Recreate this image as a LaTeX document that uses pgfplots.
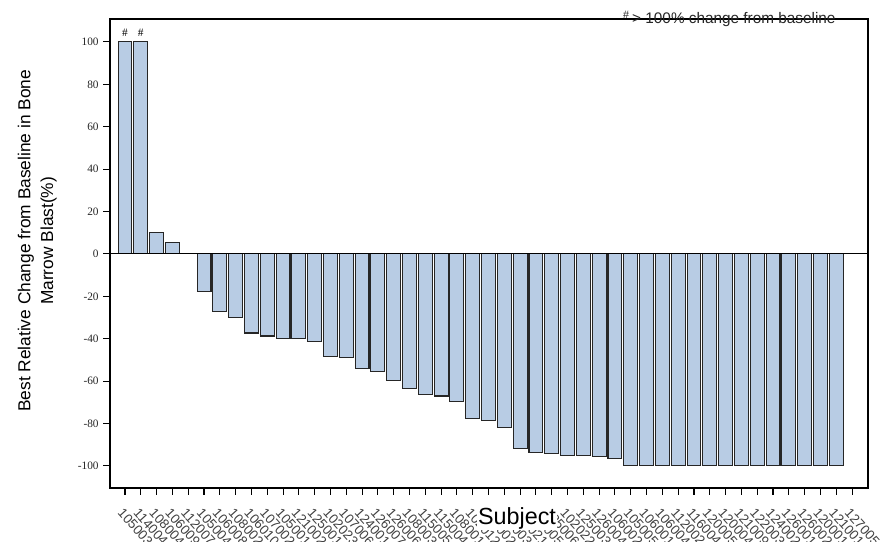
\documentclass[border=0pt]{standalone}
\usepackage{pgfplots}
\pgfplotsset{compat=1.18}
\usepackage{fontspec}
\setmainfont{Liberation Sans}
\newfontfamily\serif{Liberation Serif}
\definecolor{barfill}{RGB}{184,204,228}
\begin{document}
\begin{tikzpicture}
\begin{axis}[
  name=ax,
  scale only axis,
  width=568.5pt, height=351.75pt,
  xmin=0.051, xmax=48.01,
  ymin=-110.4, ymax=110.8,
  axis line style={black, line width=0.8pt},
  tick align=outside,
  major tick length=5pt,
  tick style={black, line width=0.8pt},
  xtick={1,...,47},
  xticklabels={105003,114004,108004,106009,112007,105004,106008,108002,106010,107002,105001,121002,125001,102023,107006,124001,126007,126006,108003,115005,115004,108001,102012,125002,102003,102021,125005,125006,102022,125003,126004,106002,105005,106001,106004,112002,116004,120005,120004,121009,122003,124002,126001,126002,120001,121001,127005},
  xticklabel style={rotate=-48, anchor=north west, font=\fontsize{10}{12}\selectfont, text=black!75, inner sep=1pt, yshift=-5.8pt, xshift=5.5pt},
  ytick={-100,-80,...,100},
  yticklabel={\pgfmathparse{int(round(\tick))}\pgfmathresult},
  yticklabel style={font=\serif\fontsize{8.5}{10}\selectfont, text=black!85},
  xtick pos=bottom, ytick pos=left,
  clip=false,
]
\addplot[ybar, bar width=0.88, fill=barfill, draw=black!85, line width=0.8pt] coordinates {
(1,100) (2,100) (3,10) (4,5.5) (5,0) (6,-17.8) (7,-27) (8,-30) (9,-37.3) (10,-38.7)
(11,-39.8) (12,-39.8) (13,-41.5) (14,-48.4) (15,-48.9) (16,-54.2) (17,-55.3) (18,-59.9) (19,-63.4) (20,-66.5)
(21,-67) (22,-69.8) (23,-77.7) (24,-78.5) (25,-81.8) (26,-91.8) (27,-93.5) (28,-94.3) (29,-95) (30,-95.1)
(31,-95.6) (32,-96.7) (33,-100) (34,-100) (35,-100) (36,-100) (37,-100) (38,-100) (39,-100) (40,-100)
(41,-100) (42,-100) (43,-100) (44,-100) (45,-100) (46,-100)
};
\addplot[draw=none, mark=none, nodes near coords={\#},
  every node near coord/.append style={anchor=south, font=\serif\fontsize{8.5}{9}\selectfont, inner sep=1pt, yshift=3pt}]
  coordinates {(1,100) (2,100)};
\addplot[black, line width=0.8pt, mark=none] coordinates {(0.051,0) (48.01,0)};
\node[font=\fontsize{11.5}{13}\selectfont, text=black!85, anchor=center] at (rel axis cs:0.817,1) {\textsuperscript{\#}\,> 100\% change from baseline};
\node[rotate=90, align=center, font=\fontsize{13}{17}\selectfont] at ([xshift=-54.5pt]rel axis cs:0,0.527) {Best Relative Change from Baseline in Bone\\Marrow Blast(\%)};
\end{axis}
\node[fill=white, inner sep=1pt, font=\fontsize{17.5}{20}\selectfont] at ([xshift=305.3pt,yshift=-22.5pt]ax.south west) {Subject};
\pgfresetboundingbox
\path ([xshift=-82.5pt,yshift=-40.5pt]ax.south west) rectangle ([xshift=11.25pt,yshift=14.25pt]ax.north east);
\end{tikzpicture}
\end{document}
